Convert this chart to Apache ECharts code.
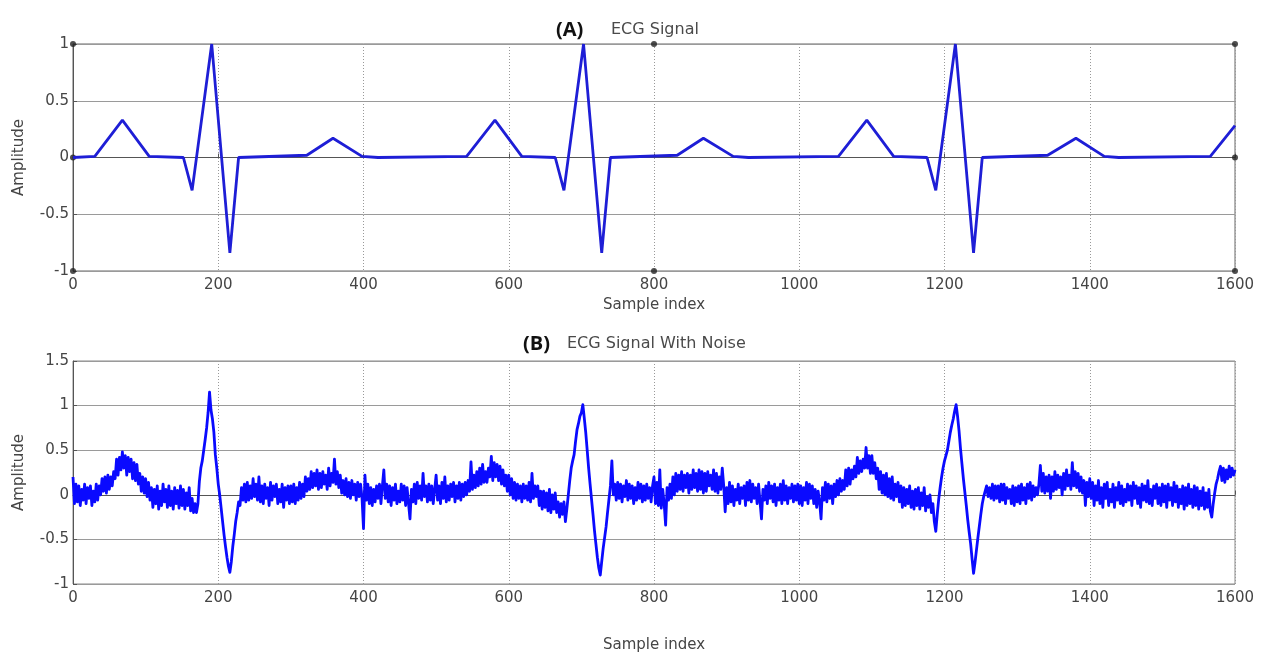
<!DOCTYPE html>
<html>
<head>
<meta charset="utf-8">
<script src="https://cdn.jsdelivr.net/npm/echarts@6/dist/echarts.min.js"></script>
<style>html,body{margin:0;padding:0;background:#fff}#c{width:1263px;height:654px}</style>
</head>
<body>
<div id="c"></div>
<script>
// ---- Data (A) clean ECG: breakpoints of the piecewise-linear trace ----
const ecgX = [0, 30, 68, 105, 152, 164, 191, 216, 228, 322, 358, 398, 420, 542,
              581, 618, 664, 676, 703, 728, 740, 832, 868, 909, 930, 1054,
              1093, 1130, 1176, 1188, 1215, 1240, 1252, 1342, 1381, 1420, 1440, 1566, 1600];
const ecgY = [0, 0.01, 0.33, 0.01, 0, -0.29, 1.0, -0.84, 0, 0.02, 0.17, 0.01, 0, 0.01,
              0.33, 0.01, 0, -0.29, 1.0, -0.84, 0, 0.02, 0.17, 0.01, 0, 0.01,
              0.33, 0.01, 0, -0.29, 1.0, -0.84, 0, 0.02, 0.17, 0.01, 0, 0.01, 0.28];
// corner markers seen on panel (A)
const markX = [0, 0, 0, 800, 800, 1600, 1600, 1600];
const markY = [1, 0, -1, 1, -1, 1, 0, -1];

// ---- Data (B) noisy ECG, read every 2 samples (index 0..1600) ----
const noiseStep = 2;
const noisyY = [
  // 0..98
  0.2, -0.1, 0.12, -0.08, 0.1, -0.12, 0.06, -0.06, 0.12, -0.1, 0.08, -0.04, 0.1, -0.12, 0.04, -0.08, 0.12, -0.06, 0.1, 0.0, 0.18, 0.04, 0.2, 0.02, 0.22,
  0.06, 0.2, 0.1, 0.26, 0.18, 0.4, 0.22, 0.42, 0.28, 0.48, 0.3, 0.44, 0.22, 0.42, 0.26, 0.4, 0.18, 0.36, 0.16, 0.34, 0.12, 0.24, 0.04, 0.2, 0.02,
  // 100..198
  0.18, -0.02, 0.14, -0.06, 0.08, -0.14, 0.06, -0.1, 0.1, -0.16, 0.04, -0.12, 0.12, -0.08, 0.06, -0.14, 0.1, -0.12, 0.04, -0.16, 0.08, -0.1, 0.05, -0.15, 0.1,
  -0.12, 0.06, -0.16, 0.02, -0.12, 0.08, -0.18, -0.04, -0.2, -0.1, -0.2, -0.1, 0.15, 0.3, 0.38, 0.5, 0.62, 0.75, 0.92, 1.15, 0.95, 0.85, 0.7, 0.45, 0.3,
  // 200..298
  0.12, 0.0, -0.15, -0.3, -0.45, -0.58, -0.7, -0.8, -0.87, -0.75, -0.58, -0.45, -0.3, -0.2, -0.08, -0.12, 0.08, -0.06, 0.12, -0.08, 0.14, -0.06, 0.1, -0.04, 0.18,
  -0.02, 0.12, -0.06, 0.2, -0.08, 0.1, -0.1, 0.12, -0.04, 0.08, -0.12, 0.14, -0.06, 0.1, -0.02, 0.12, -0.1, 0.06, -0.08, 0.12, -0.14, 0.08, -0.06, 0.1, -0.1,
  // 300..398
  0.1, -0.08, 0.12, -0.1, 0.08, -0.06, 0.14, -0.04, 0.12, -0.02, 0.2, 0.04, 0.18, 0.06, 0.26, 0.08, 0.24, 0.1, 0.28, 0.06, 0.24, 0.08, 0.26, 0.12, 0.22,
  0.06, 0.3, 0.1, 0.24, 0.14, 0.4, 0.12, 0.26, 0.08, 0.22, 0.02, 0.16, 0.0, 0.18, -0.02, 0.14, -0.04, 0.16, 0.0, 0.12, -0.06, 0.14, -0.02, 0.12, -0.04,
  // 400..498
  -0.38, 0.22, -0.06, 0.12, -0.1, 0.08, -0.12, 0.06, -0.08, 0.1, -0.04, 0.12, -0.1, 0.1, 0.28, -0.04, 0.12, -0.08, 0.1, -0.12, 0.08, -0.06, 0.12, -0.1, 0.04,
  -0.08, 0.12, -0.06, 0.1, -0.12, 0.08, -0.1, -0.27, 0.06, -0.08, 0.12, -0.1, 0.14, -0.04, 0.1, -0.06, 0.24, -0.02, 0.1, -0.08, 0.12, -0.06, 0.1, -0.1, 0.06,
  // 500..598
  0.22, -0.06, 0.1, -0.1, 0.14, -0.04, 0.2, -0.08, 0.1, -0.06, 0.12, -0.02, 0.14, -0.08, 0.1, -0.04, 0.14, -0.06, 0.12, -0.02, 0.14, 0.0, 0.16, 0.04, 0.37,
  0.06, 0.22, 0.08, 0.26, 0.1, 0.3, 0.12, 0.34, 0.14, 0.26, 0.14, 0.3, 0.2, 0.43, 0.16, 0.36, 0.2, 0.34, 0.16, 0.32, 0.12, 0.28, 0.1, 0.22, 0.04,
  // 600..698
  0.22, 0.0, 0.18, -0.04, 0.14, -0.06, 0.12, -0.04, 0.1, -0.08, 0.12, -0.04, 0.1, -0.06, 0.14, -0.08, 0.24, -0.04, 0.1, -0.02, 0.1, -0.12, 0.04, -0.16, 0.04,
  -0.14, 0.02, -0.18, 0.06, -0.2, 0.0, -0.16, 0.02, -0.2, -0.08, -0.25, -0.1, -0.22, -0.08, -0.3, -0.16, 0.0, 0.16, 0.3, 0.38, 0.45, 0.6, 0.73, 0.8, 0.88,
  // 700..798
  0.92, 1.01, 0.86, 0.7, 0.5, 0.3, 0.12, -0.05, -0.22, -0.4, -0.55, -0.7, -0.82, -0.9, -0.75, -0.6, -0.48, -0.36, -0.2, -0.05, 0.1, 0.38, 0.0, 0.12, -0.06,
  0.14, -0.04, 0.12, -0.08, 0.1, -0.02, 0.16, -0.06, 0.12, -0.04, 0.1, -0.1, 0.08, -0.06, 0.14, -0.04, 0.12, -0.08, 0.1, -0.06, 0.12, -0.04, 0.08, -0.08, 0.1,
  // 800..898
  0.2, -0.1, 0.14, -0.12, 0.28, -0.15, 0.06, -0.1, -0.34, 0.08, -0.06, 0.12, -0.04, 0.2, 0.0, 0.24, 0.04, 0.22, 0.06, 0.26, 0.04, 0.22, 0.08, 0.24, 0.02,
  0.22, 0.06, 0.28, 0.08, 0.24, 0.04, 0.28, 0.06, 0.26, 0.02, 0.24, 0.04, 0.26, 0.1, 0.22, 0.06, 0.28, 0.04, 0.24, 0.02, 0.2, 0.06, 0.3, 0.1, -0.19,
  // 900..998
  0.08, -0.1, 0.14, -0.08, 0.1, -0.12, 0.06, -0.06, 0.12, -0.1, 0.08, -0.04, 0.1, -0.12, 0.14, -0.06, 0.16, -0.08, 0.12, -0.04, 0.08, -0.1, 0.12, -0.08, -0.27,
  0.06, -0.06, 0.1, -0.1, 0.14, -0.04, 0.1, -0.08, 0.12, -0.12, 0.08, -0.06, 0.12, -0.1, 0.16, -0.06, 0.1, -0.1, 0.08, -0.04, 0.12, -0.08, 0.1, -0.06, 0.12,
  // 1000..1098
  -0.1, 0.1, -0.12, 0.08, -0.06, 0.14, -0.1, 0.12, -0.04, 0.1, -0.1, 0.06, -0.14, 0.04, -0.08, -0.27, 0.08, -0.06, 0.14, -0.08, 0.12, -0.04, 0.1, -0.1, 0.12,
  -0.02, 0.16, 0.0, 0.18, 0.04, 0.16, 0.06, 0.28, 0.1, 0.3, 0.12, 0.28, 0.18, 0.32, 0.2, 0.42, 0.24, 0.38, 0.26, 0.4, 0.3, 0.53, 0.3, 0.44, 0.24,
  // 1100..1198
  0.44, 0.24, 0.36, 0.18, 0.3, 0.06, 0.26, 0.02, 0.22, 0.0, 0.24, -0.02, 0.18, -0.04, 0.2, -0.06, 0.12, -0.02, 0.14, -0.08, 0.1, -0.14, 0.08, -0.12, 0.06,
  -0.1, 0.1, -0.14, 0.04, -0.16, 0.06, -0.12, 0.08, -0.16, 0.02, -0.12, 0.08, -0.18, -0.02, -0.14, 0.0, -0.2, -0.1, -0.3, -0.41, -0.22, -0.05, 0.08, 0.2, 0.3,
  // 1200..1298
  0.38, 0.44, 0.5, 0.6, 0.7, 0.78, 0.85, 0.94, 1.01, 0.88, 0.72, 0.52, 0.35, 0.18, 0.03, -0.12, -0.28, -0.42, -0.55, -0.72, -0.88, -0.76, -0.62, -0.48, -0.35,
  -0.22, -0.1, -0.02, 0.04, 0.1, -0.02, 0.08, -0.04, 0.12, -0.06, 0.1, -0.04, 0.1, -0.08, 0.12, -0.06, 0.12, -0.1, 0.08, -0.04, 0.06, -0.1, 0.1, -0.12, 0.08,
  // 1300..1398
  -0.08, 0.1, -0.1, 0.12, -0.06, 0.08, -0.1, 0.12, -0.04, 0.14, -0.06, 0.1, -0.02, 0.08, 0.0, 0.12, 0.33, 0.04, 0.24, 0.02, 0.2, 0.04, 0.22, -0.04, 0.2,
  0.04, 0.26, 0.06, 0.22, 0.08, 0.2, 0.0, 0.24, 0.06, 0.28, 0.1, 0.22, 0.06, 0.36, 0.1, 0.26, 0.08, 0.24, 0.04, 0.2, 0.02, 0.16, -0.12, 0.14, -0.02,
  // 1400..1498
  0.18, -0.04, 0.14, -0.12, 0.1, -0.06, 0.16, -0.1, 0.08, -0.14, 0.12, -0.04, 0.14, -0.12, 0.06, -0.08, 0.12, -0.14, 0.08, -0.06, 0.14, -0.1, 0.1, -0.12, 0.06,
  -0.08, 0.12, -0.06, 0.1, -0.12, 0.14, -0.04, 0.1, -0.1, 0.08, -0.14, 0.12, -0.06, 0.1, -0.08, 0.16, -0.1, 0.06, -0.12, 0.1, -0.04, 0.12, -0.1, 0.08, -0.12,
  // 1500..1598
  0.12, -0.08, 0.1, -0.14, 0.12, -0.06, 0.08, -0.12, 0.14, -0.08, 0.1, -0.14, 0.06, -0.1, 0.1, -0.16, 0.08, -0.12, 0.12, -0.1, 0.06, -0.14, 0.1, -0.12, 0.08,
  -0.16, 0.04, -0.12, 0.08, -0.16, 0.02, -0.14, 0.06, -0.18, -0.25, -0.1, 0.02, 0.12, 0.18, 0.26, 0.32, 0.16, 0.3, 0.14, 0.28, 0.18, 0.32, 0.2, 0.3, 0.22,
  // 1600
  0.28
];

// ---- Axis ticks ----
const xTicks = [0, 200, 400, 600, 800, 1000, 1200, 1400, 1600];
const yTicksA = [-1, -0.5, 0, 0.5, 1];
const yTicksB = [-1, -0.5, 0, 0.5, 1, 1.5];

const ecgData = ecgX.map((x, i) => [x, ecgY[i]]);
const markData = markX.map((x, i) => [x, markY[i]]);
const noisyData = noisyY.map((y, i) => [i * noiseStep, y]);

const FONT = 'DejaVu Sans, Verdana, sans-serif';
const labelStyle = { color: '#454545', fontSize: 15, fontFamily: FONT };

function xAxis(gridIndex, nameGap) {
  return {
    type: 'value', gridIndex, min: xTicks[0], max: xTicks[xTicks.length - 1],
    interval: xTicks[1] - xTicks[0],
    name: 'Sample index', nameLocation: 'middle', nameGap,
    nameTextStyle: { color: '#454545', fontSize: 15, fontFamily: FONT },
    axisLine: { show: true, lineStyle: { color: '#555', width: 1 } },
    axisTick: { show: true, inside: true, length: 4, lineStyle: { color: '#555' } },
    axisLabel: Object.assign({ margin: 7, formatter: v => String(v) }, labelStyle),
    splitLine: { show: true, lineStyle: { color: '#999', type: [1, 2], width: 1 } }
  };
}
function yAxis(gridIndex, ticks) {
  return {
    type: 'value', gridIndex, min: ticks[0], max: ticks[ticks.length - 1],
    interval: ticks[1] - ticks[0],
    name: 'Amplitude', nameLocation: 'middle', nameGap: 46, nameRotate: 90,
    nameTextStyle: { color: '#454545', fontSize: 15, fontFamily: FONT },
    axisLine: { show: true, lineStyle: { color: '#555', width: 1 } },
    axisTick: { show: true, inside: true, length: 4, lineStyle: { color: '#555' } },
    axisLabel: Object.assign({ margin: 4, formatter: v => String(v) }, labelStyle),
    splitLine: { show: true, lineStyle: { color: '#9a9a9a', width: 1 } }
  };
}

const chart = echarts.init(document.getElementById('c'), null, { renderer: 'canvas' });
chart.setOption({
  animation: false,
  backgroundColor: '#fff',
  title: [
    { text: '(A)', left: 551, top: 15, textStyle: { fontSize: 20, fontWeight: 'bold', color: '#111', fontFamily: 'Open Sans, Liberation Sans, sans-serif' } },
    { text: 'ECG Signal', left: 606, top: 17, textStyle: { fontSize: 16, fontWeight: 'normal', color: '#4a4a4a', fontFamily: FONT } },
    { text: '(B)', left: 518, top: 329, textStyle: { fontSize: 20, fontWeight: 'bold', color: '#111', fontFamily: 'Open Sans, Liberation Sans, sans-serif' } },
    { text: 'ECG Signal With Noise', left: 562, top: 331, textStyle: { fontSize: 16, fontWeight: 'normal', color: '#4a4a4a', fontFamily: FONT } }
  ],
  grid: [
    { left: 73, right: 28, top: 44, height: 227, show: true, borderColor: '#666', borderWidth: 1, backgroundColor: 'transparent' },
    { left: 73, right: 28, top: 361, height: 226, show: true, borderColor: '#888', borderWidth: 1, backgroundColor: 'transparent' }
  ],
  xAxis: [xAxis(0, 27), xAxis(1, 54)],
  yAxis: [yAxis(0, yTicksA), yAxis(1, yTicksB)],
  series: [
    { type: 'line', xAxisIndex: 0, yAxisIndex: 0, data: ecgData, showSymbol: false, silent: true,
      lineStyle: { color: '#1e1ed6', width: 2.8 } },
    { type: 'scatter', xAxisIndex: 0, yAxisIndex: 0, data: markData, symbolSize: 6, clip: false, silent: true,
      itemStyle: { color: '#222' } },
    { type: 'line', xAxisIndex: 1, yAxisIndex: 1, data: noisyData, showSymbol: false, silent: true,
      lineStyle: { color: '#0a0aff', width: 2.8, join: 'round' } }
  ]
});
</script>
</body>
</html>
